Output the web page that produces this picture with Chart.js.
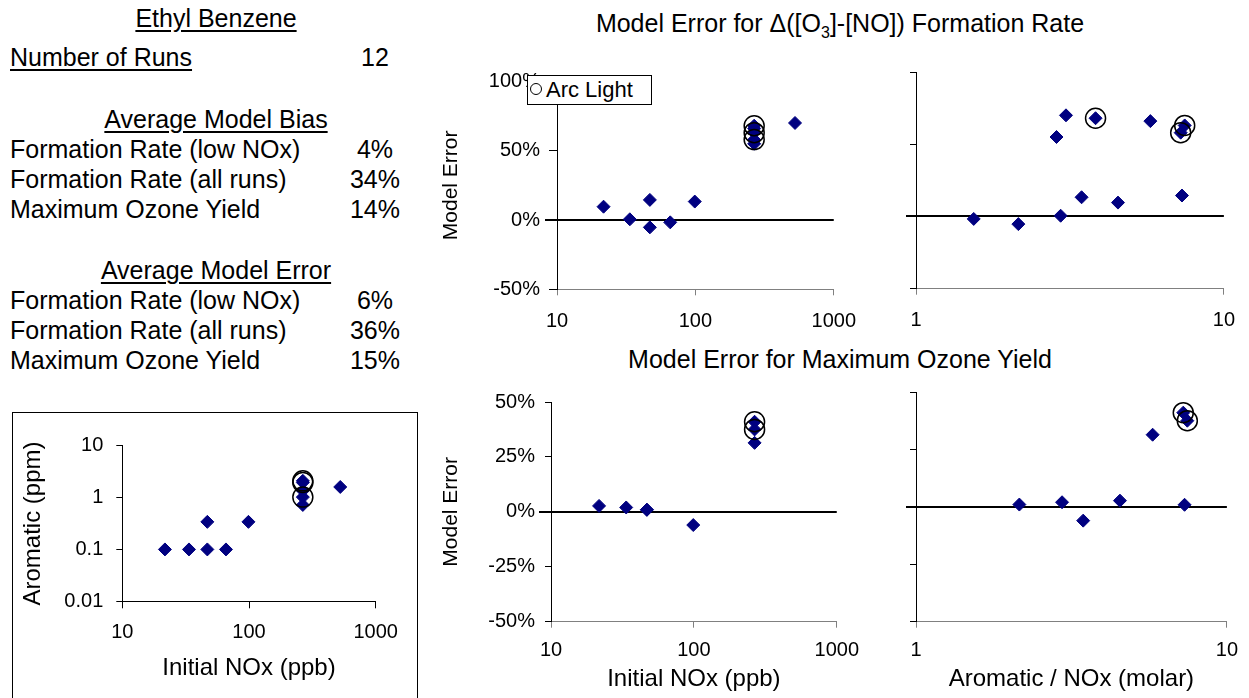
<!DOCTYPE html>
<html>
<head>
<meta charset="utf-8">
<script src="https://cdn.jsdelivr.net/npm/chart.js@4.4.1/dist/chart.umd.min.js"></script>
<style>
  body { margin: 0; width: 1249px; height: 698px; overflow: hidden; background: #fff; position: relative;
         font-family: "Liberation Sans", Arial, sans-serif; color: #000; }
  .t { position: absolute; font-size: 25px; line-height: 25px; white-space: nowrap; }
  .u { text-decoration: underline; text-underline-offset: 3px; }
  .c { text-align: center; }
  canvas { position: absolute; }
  #box { position: absolute; left: 12px; top: 412px; width: 404px; height: 300px; border: 1px solid #000; }
  #legend { position: absolute; left: 527px; top: 75px; width: 125px; height: 30px; box-sizing: border-box;
            border: 1px solid #000; background: #fff; font-size: 22px; line-height: 28px; white-space: nowrap; }
  #legend span.mark { position: absolute; left: 2px; top: 7px; width: 10px; height: 10px; border: 1.5px solid #000; border-radius: 50%; }
  #legend span.txt { position: absolute; left: 18px; top: 0; }
</style>
</head>
<body>

<div id="stats"></div>

<div class="t c" style="left:440px; width:800px; top:11px;">Model Error for &#916;([O<sub style="font-size:16px; line-height:0;">3</sub>]-[NO]) Formation Rate</div>
<div class="t c" style="left:440px; width:800px; top:347px;">Model Error for Maximum Ozone Yield</div>

<div id="box"></div>
<canvas id="aromatic" width="403" height="285" style="left:13px; top:413px;"></canvas>

<canvas id="rateNox" width="440" height="270" style="left:430px; top:60px;"></canvas>
<canvas id="rateRatio" width="369" height="270" style="left:880px; top:60px;"></canvas>
<canvas id="yieldNox" width="440" height="318" style="left:430px; top:380px;"></canvas>
<canvas id="yieldRatio" width="369" height="318" style="left:880px; top:380px;"></canvas>

<div id="legend"><span class="mark"></span><span class="txt">Arc Light</span></div>

<script>
"use strict";
// ethyl benzene runs, one entry per run
let noxPpb = [21.7, 33.6, 46.9, 46.9, 65.8, 99, 525, 266, 266, 266, 266, 266];
let aromaticPpm = [0.1, 0.1, 0.1, 0.34, 0.1, 0.34, 1.6, 0.72, 1.02, 1.35, 2.1, 1.95];
let aromaticNoxRatio = [4.53, 2.95, 2.15, 7.31, 1.54, 3.45, 3.07, 2.86, 3.83, 5.77, 7.46, 7.24];
let rateError = [9.6, 0.5, -5.3, 14.5, -1.7, 13.3, 70, 55, 68, 66, 63, 58];
let yieldError = [2.7, 2.0, 1.0, 0.9, null, -6, null, null, null, 31.4, 37.5, 41];
let arcLight = [false, false, false, false, false, false, false, false, true, false, true, true];

//tick values
let noxTicks = [10, 100, 1000];
let ratioTicks = [1, 10];
let aromaticTicks = [0.01, 0.1, 1, 10];
let rateTicks = [-50, 0, 50, 100];
let yieldTicks = [-50, -25, 0, 25, 50];

//summary numbers
let runCount = 12;
let biasLabels = ["Formation Rate (low NOx)", "Formation Rate (all runs)", "Maximum Ozone Yield"];
let biasValues = ["4%", "34%", "14%"];
let errorLabels = ["Formation Rate (low NOx)", "Formation Rate (all runs)", "Maximum Ozone Yield"];
let errorValues = ["6%", "36%", "15%"];

function addText(text, left, top, width, cls) {
  let div = document.createElement("div");
  div.className = "t " + (cls || "");
  div.style.left = left + "px";
  div.style.top = top + "px";
  if (width) div.style.width = width + "px";
  div.textContent = text;
  document.getElementById("stats").appendChild(div);
}

function renderStats() {
  addText("Ethyl Benzene", 16, 6, 400, "c u");
  addText("Number of Runs", 10, 45, 0, "u");
  addText(String(runCount), 335, 45, 80, "c");
  addText("Average Model Bias", 16, 107, 400, "c u");
  for (let i = 0; i < biasLabels.length; i++) {
    addText(biasLabels[i], 10, 137 + i * 30, 0, "");
    addText(biasValues[i], 335, 137 + i * 30, 80, "c");
  }
  addText("Average Model Error", 16, 258, 400, "c u");
  for (let i = 0; i < errorLabels.length; i++) {
    addText(errorLabels[i], 10, 288 + i * 30, 0, "");
    addText(errorValues[i], 335, 288 + i * 30, 80, "c");
  }
}

function points(xs, ys, onlyArc) {
  let out = [];
  for (let i = 0; i < xs.length; i++) {
    if (ys[i] === null) continue;
    if (onlyArc && !arcLight[i]) continue;
    out.push({ x: xs[i], y: ys[i] });
  }
  return out;
}

// black line along y = 0, sticking out past the y axis like the ticks do
const zeroLine = {
  id: "zeroLine",
  beforeDatasetsDraw(chart, args, opts) {
    let ctx = chart.ctx;
    let area = chart.chartArea;
    let y = Math.round(chart.scales.y.getPixelForValue(0));
    ctx.save();
    ctx.strokeStyle = "#000";
    ctx.lineWidth = 2;
    ctx.beginPath();
    ctx.moveTo(area.left - opts.overhang, y);
    ctx.lineTo(area.right, y);
    ctx.stroke();
    ctx.restore();
  },
};

function axis(type, ticks, cfg) {
  return {
    type: type,
    min: ticks[0],
    max: ticks[ticks.length - 1],
    afterBuildTicks: (s) => { s.ticks = ticks.map((v) => ({ value: v })); },
    afterFit: (s) => {
      if (cfg.width !== undefined) s.width = cfg.width;
      if (cfg.height !== undefined) s.height = cfg.height;
    },
    ticks: {
      callback: cfg.labels || ((v) => String(v)),
      font: { size: 20 },
      color: "#000",
      padding: cfg.pad,
      autoSkip: false,
      maxRotation: 0,
    },
    grid: { drawOnChartArea: false, tickLength: cfg.tick, color: cfg.color },
    border: { color: cfg.color, width: 1 },
    title: cfg.title
      ? { display: true, text: cfg.title, font: { size: cfg.titleSize || 24 }, color: "#000", padding: cfg.titlePad }
      : { display: false },
  };
}

function scatterPlot(id, xs, ys, cfg) {
  let datasets = [
    {
      label: "Arc Light",
      data: points(xs, ys, true),
      pointStyle: "circle",
      pointRadius: 10,
      borderWidth: 1.5,
      borderColor: "#000",
      backgroundColor: "rgba(0,0,0,0)",
    },
    {
      label: "Runs",
      data: points(xs, ys, false),
      pointStyle: "rectRot",
      pointRadius: 6.5,
      borderWidth: 1,
      borderColor: "#000080",
      backgroundColor: "#000080",
    },
  ];
  return new Chart(document.getElementById(id), {
    type: "scatter",
    data: { datasets: datasets },
    options: {
      responsive: false,
      animation: false,
      devicePixelRatio: 1,
      layout: { autoPadding: false, padding: { top: cfg.padTop, right: cfg.padRight, left: 0, bottom: 0 } },
      plugins: {
        legend: { display: false },
        tooltip: { enabled: false },
        zeroLine: cfg.zero ? { overhang: cfg.zero } : false,
      },
      scales: { x: cfg.x, y: cfg.y },
    },
    plugins: [zeroLine],
  });
}

let pct = (v) => v + "%";
let blank = () => "";

Chart.defaults.font.family = "'Liberation Sans', Arial, sans-serif";
Chart.defaults.color = "#000";

renderStats();

scatterPlot("aromatic", noxPpb, aromaticPpm, {
  padTop: 32.7, padRight: 40.3,
  x: axis("logarithmic", noxTicks, { height: 96.7, pad: 12, tick: 7, color: "#000",
    title: "Initial NOx (ppb)", titlePad: { top: 0, bottom: 15 } }),
  y: axis("logarithmic", aromaticTicks, { width: 109.3, pad: 13, tick: 6, color: "#000",
    title: "Aromatic (ppm)", titlePad: { top: 5.6, bottom: 0 } }),
});

scatterPlot("rateNox", noxPpb, rateError, {
  padTop: 21.4, padRight: 14, zero: 12,
  x: axis("logarithmic", noxTicks, { height: 40.7, pad: 14, tick: 6, color: "#808080" }),
  y: axis("linear", rateTicks, { width: 127, pad: 9, tick: 8, color: "#000", labels: pct,
    title: "Model Error", titleSize: 21, titlePad: { top: 9, bottom: 0 } }),
});
scatterPlot("rateRatio", aromaticNoxRatio, rateError, {
  padTop: 9.7, padRight: 21.7, zero: 10,
  x: axis("logarithmic", ratioTicks, { height: 41.3, pad: 14, tick: 6, color: "#808080" }),
  y: axis("linear", rateTicks, { width: 36, pad: 0, tick: 6, color: "#000", labels: blank }),
});
scatterPlot("yieldNox", noxPpb, yieldError, {
  padTop: 19.3, padRight: 14, zero: 12,
  x: axis("logarithmic", noxTicks, { height: 76.3, pad: 11, tick: 6, color: "#808080",
    title: "Initial NOx (ppb)", titlePad: { top: 0, bottom: 4.5 } }),
  y: axis("linear", yieldTicks, { width: 121, pad: 10, tick: 6, color: "#000", labels: pct,
    title: "Model Error", titleSize: 21, titlePad: { top: 9, bottom: 0 } }),
});
scatterPlot("yieldRatio", aromaticNoxRatio, yieldError, {
  padTop: 7.3, padRight: 21.7, zero: 10,
  x: axis("logarithmic", ratioTicks, { height: 76.3, pad: 11, tick: 6, color: "#808080",
    title: "Aromatic / NOx (molar)", titlePad: { top: 0, bottom: 4 } }),
  y: axis("linear", yieldTicks, { width: 36, pad: 0, tick: 6, color: "#000", labels: blank }),
});
</script>
</body>
</html>
